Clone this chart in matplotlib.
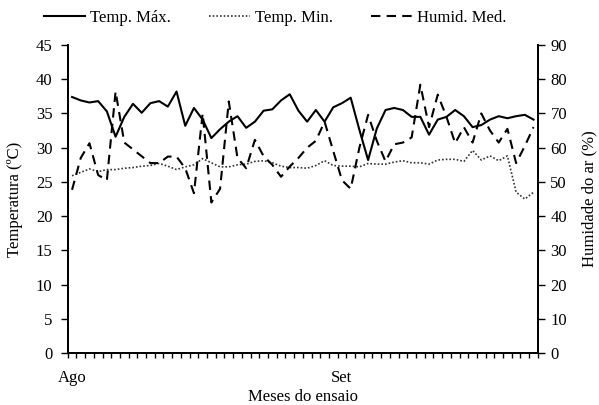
import numpy as np
import matplotlib
matplotlib.use('Agg')
import matplotlib.pyplot as plt
from matplotlib.ticker import FixedLocator, MultipleLocator

plt.rcParams['font.family'] = ['Liberation Serif', 'DejaVu Serif']
plt.rcParams['font.size'] = 12

# daily values, Aug 1 -> Sep 23
temp_max = [37.4, 36.9, 36.6, 36.8, 35.3, 31.6, 34.5, 36.4, 35.1, 36.5, 36.8, 36.0,
            38.2, 33.2, 35.8, 34.1, 31.4, 32.7, 33.8, 34.6, 32.9, 33.8, 35.4, 35.6,
            36.9, 37.8, 35.4, 33.8, 35.5, 33.8, 35.9, 36.5, 37.3, 32.6, 28.2, 32.8,
            35.5, 35.8, 35.5, 34.5, 34.5, 31.9, 34.1, 34.5, 35.5, 34.6, 33.0, 33.3,
            34.1, 34.6, 34.3, 34.6, 34.8, 34.1]
temp_min = [25.9, 26.4, 26.9, 26.5, 26.8, 26.8, 27.0, 27.1, 27.3, 27.4, 27.7, 27.3,
            26.8, 27.2, 27.5, 28.4, 27.8, 27.2, 27.2, 27.5, 27.6, 28.0, 28.1, 27.8,
            27.3, 27.1, 27.1, 27.0, 27.4, 28.1, 27.4, 27.3, 27.3, 27.2, 27.7, 27.6,
            27.6, 27.9, 28.1, 27.8, 27.8, 27.6, 28.2, 28.3, 28.3, 28.0, 29.6, 28.2,
            28.8, 28.1, 28.8, 23.5, 22.5, 23.5]
humid = [47.7, 57, 61.3, 52, 50.5, 76.4, 61.5, 59.5, 57.5, 55.5, 55.5, 57.4,
         57.4, 54, 46.7, 70, 44, 48, 73.5, 57, 54, 62.3, 57.5, 55,
         51.5, 54.5, 57, 60, 62, 67.6, 59, 50.5, 48, 60, 69.6, 62,
         56, 61, 61.5, 63, 78.4, 66, 75.5, 69, 61.3, 66, 61.5, 70,
         65, 61.5, 65.5, 55.5, 60.5, 66]
month_labels = ['Ago', 'Set']
month_pos = [0, 31]

x = np.arange(len(temp_max))

fig = plt.figure(figsize=(5.99, 4.05), dpi=100)
ax = fig.add_axes([0.113, 0.128, 0.785, 0.761])
ax2 = ax.twinx()

l1, = ax.plot(x, temp_max, color='black', lw=1.5, label='Temp. Máx.')
l2, = ax.plot(x, temp_min, color='#333333', lw=1.2, ls=(0, (1, 1.2)), label='Temp. Min.')
l3, = ax2.plot(x, humid, color='black', lw=1.5, ls=(0, (4.5, 3)), label='Humid. Med.')

ax.set_xlim(-0.5, len(x) - 0.5)
ax.set_ylim(0, 45)
ax.yaxis.set_major_locator(MultipleLocator(5))
ax2.set_ylim(0, 90)
ax2.yaxis.set_major_locator(MultipleLocator(10))

ax.xaxis.set_major_locator(FixedLocator(month_pos))
ax.set_xticklabels(month_labels)
ax.xaxis.set_minor_locator(FixedLocator(np.arange(-0.5, len(x), 1)))
ax.tick_params(axis='x', which='major', length=0, pad=12)
ax.tick_params(axis='x', which='minor', length=3.5, width=1, direction='out')
ax.tick_params(axis='y', length=5, width=1, direction='out', pad=6)
ax2.tick_params(axis='y', length=5, width=1, direction='out', pad=4)

for a in (ax, ax2):
    a.spines['top'].set_visible(False)
    for s in a.spines.values():
        s.set_linewidth(1.3)

ax.set_ylabel('Temperatura (ºC)', labelpad=9)
ax2.set_ylabel('Humidade do ar (%)', labelpad=10)
ax.set_xlabel('Meses do ensaio', labelpad=2)

fig.legend(handles=[l1, l2, l3], loc='center', ncol=3, frameon=False,
           bbox_to_anchor=(0.46, 0.955), handlelength=2.45, handletextpad=0.3,
           columnspacing=2.3)

fig.savefig('out.png', dpi=100)
